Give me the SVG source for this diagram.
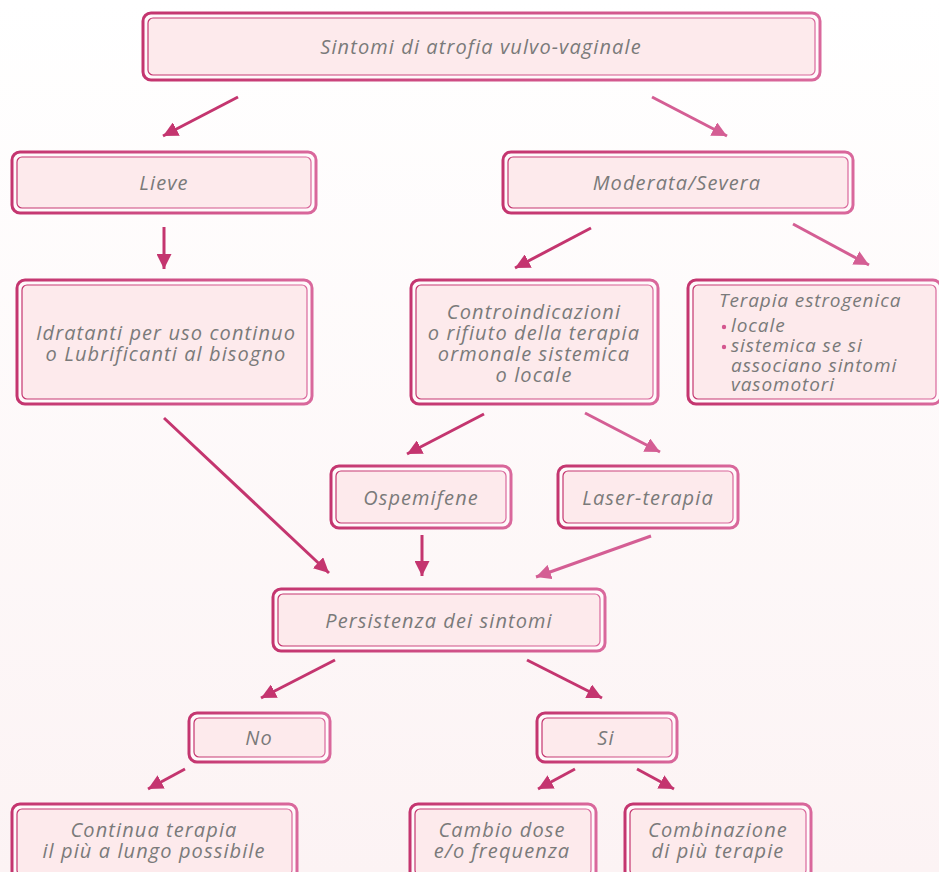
<svg xmlns="http://www.w3.org/2000/svg" width="939" height="872" viewBox="0 0 939 872">
<defs>
<linearGradient id="bg" x1="0" y1="0" x2="0" y2="1"><stop offset="0" stop-color="#ffffff"/><stop offset="1" stop-color="#fcf3f4"/></linearGradient>
<linearGradient id="bd" x1="0" y1="0" x2="1" y2="0"><stop offset="0" stop-color="#c4356f"/><stop offset="1" stop-color="#d9689c"/></linearGradient>
<marker id="ad" viewBox="0 0 10 10" refX="10" refY="5" markerWidth="5" markerHeight="5" orient="auto" markerUnits="strokeWidth"><path d="M0,0 L10,5 L0,10 Z" fill="#c4356f"/></marker>
<marker id="al" viewBox="0 0 10 10" refX="10" refY="5" markerWidth="5" markerHeight="5" orient="auto" markerUnits="strokeWidth"><path d="M0,0 L10,5 L0,10 Z" fill="#d45e94"/></marker>
<style>
.o{fill:#fffafb;stroke:url(#bd);stroke-width:3}
.i{fill:#fdeaec;stroke:url(#bd);stroke-width:1.2}
.t{font-family:"Open Sans",Lato,sans-serif;font-style:italic;font-size:20px;letter-spacing:1.1px;fill:#7a7a7a;text-anchor:middle}
.s{font-size:19px;letter-spacing:0.9px}
.l{text-anchor:start}
.b{fill:#d4578f}
.cd{stroke:#c4356f;stroke-width:3;fill:none;marker-end:url(#ad)}
.cl{stroke:#d45e94;stroke-width:3;fill:none;marker-end:url(#al)}
</style>
</defs>
<rect width="939" height="872" fill="url(#bg)"/>
<g id="connectors">
<line class="cd" x1="238" y1="97" x2="163" y2="136"/>
<line class="cl" x1="652" y1="97" x2="727" y2="136"/>
<line class="cd" x1="164" y1="227" x2="164" y2="269"/>
<line class="cd" x1="591" y1="228" x2="515" y2="268"/>
<line class="cl" x1="793" y1="224" x2="869" y2="265"/>
<line class="cd" x1="164" y1="418" x2="329" y2="573"/>
<line class="cd" x1="484" y1="414" x2="407" y2="454"/>
<line class="cl" x1="585" y1="413" x2="660" y2="452"/>
<line class="cd" x1="422" y1="535" x2="422" y2="576"/>
<line class="cl" x1="651" y1="536" x2="536" y2="577"/>
<line class="cd" x1="335" y1="660" x2="261" y2="698"/>
<line class="cd" x1="527" y1="660" x2="602" y2="698"/>
<line class="cd" x1="185" y1="769" x2="148" y2="789"/>
<line class="cd" x1="575" y1="769" x2="538" y2="789"/>
<line class="cd" x1="637" y1="769" x2="674" y2="789"/>
</g>
<g id="n1"><rect class="o" x="143" y="13" width="677" height="67" rx="8"/><rect class="i" x="148" y="18" width="667" height="57" rx="5"/><text class="t" x="481" y="54">Sintomi di atrofia vulvo-vaginale</text></g>
<g id="n2"><rect class="o" x="12" y="152" width="304" height="61" rx="8"/><rect class="i" x="17" y="157" width="294" height="51" rx="5"/><text class="t" x="164" y="190">Lieve</text></g>
<g id="n3"><rect class="o" x="503" y="152" width="350" height="61" rx="8"/><rect class="i" x="508" y="157" width="340" height="51" rx="5"/><text class="t" x="677" y="190">Moderata/Severa</text></g>
<g id="n4"><rect class="o" x="17" y="280" width="295" height="124" rx="8"/><rect class="i" x="22" y="285" width="285" height="114" rx="5"/><text class="t" x="166" y="340">Idratanti per uso continuo</text><text class="t" x="166" y="361">o Lubrificanti al bisogno</text></g>
<g id="n5"><rect class="o" x="411" y="280" width="247" height="124" rx="8"/><rect class="i" x="416" y="285" width="237" height="114" rx="5"/><text class="t" x="534" y="319">Controindicazioni</text><text class="t" x="534" y="340">o rifiuto della terapia</text><text class="t" x="534" y="361">ormonale sistemica</text><text class="t" x="534" y="382">o locale</text></g>
<g id="n6"><rect class="o" x="688" y="280" width="253" height="124" rx="8"/><rect class="i" x="693" y="285" width="243" height="114" rx="5"/><text class="t s l" x="719" y="307">Terapia estrogenica</text><circle class="b" cx="724" cy="327" r="2.2"/><text class="t s l" x="731" y="332">locale</text><circle class="b" cx="724" cy="347" r="2.2"/><text class="t s l" x="731" y="352">sistemica se si</text><text class="t s l" x="731" y="372">associano sintomi</text><text class="t s l" x="731" y="391">vasomotori</text></g>
<g id="n7"><rect class="o" x="331" y="466" width="180" height="62" rx="8"/><rect class="i" x="336" y="471" width="170" height="52" rx="5"/><text class="t" x="421" y="505">Ospemifene</text></g>
<g id="n8"><rect class="o" x="558" y="466" width="180" height="62" rx="8"/><rect class="i" x="563" y="471" width="170" height="52" rx="5"/><text class="t" x="648" y="505">Laser-terapia</text></g>
<g id="n9"><rect class="o" x="273" y="589" width="332" height="62" rx="8"/><rect class="i" x="278" y="594" width="322" height="52" rx="5"/><text class="t" x="439" y="628">Persistenza dei sintomi</text></g>
<g id="n10"><rect class="o" x="189" y="713" width="141" height="49" rx="8"/><rect class="i" x="194" y="718" width="131" height="39" rx="5"/><text class="t" x="259" y="745">No</text></g>
<g id="n11"><rect class="o" x="537" y="713" width="140" height="49" rx="8"/><rect class="i" x="542" y="718" width="130" height="39" rx="5"/><text class="t" x="606" y="745">Si</text></g>
<g id="n12"><rect class="o" x="12" y="804" width="285" height="76" rx="8"/><rect class="i" x="17" y="809" width="275" height="66" rx="5"/><text class="t" x="154" y="837">Continua terapia</text><text class="t" x="154" y="858">il più a lungo possibile</text></g>
<g id="n13"><rect class="o" x="410" y="804" width="186" height="76" rx="8"/><rect class="i" x="415" y="809" width="176" height="66" rx="5"/><text class="t" x="502" y="837">Cambio dose</text><text class="t" x="502" y="858">e/o frequenza</text></g>
<g id="n14"><rect class="o" x="625" y="804" width="186" height="76" rx="8"/><rect class="i" x="630" y="809" width="176" height="66" rx="5"/><text class="t" x="718" y="837">Combinazione</text><text class="t" x="718" y="858">di più terapie</text></g>
</svg>
